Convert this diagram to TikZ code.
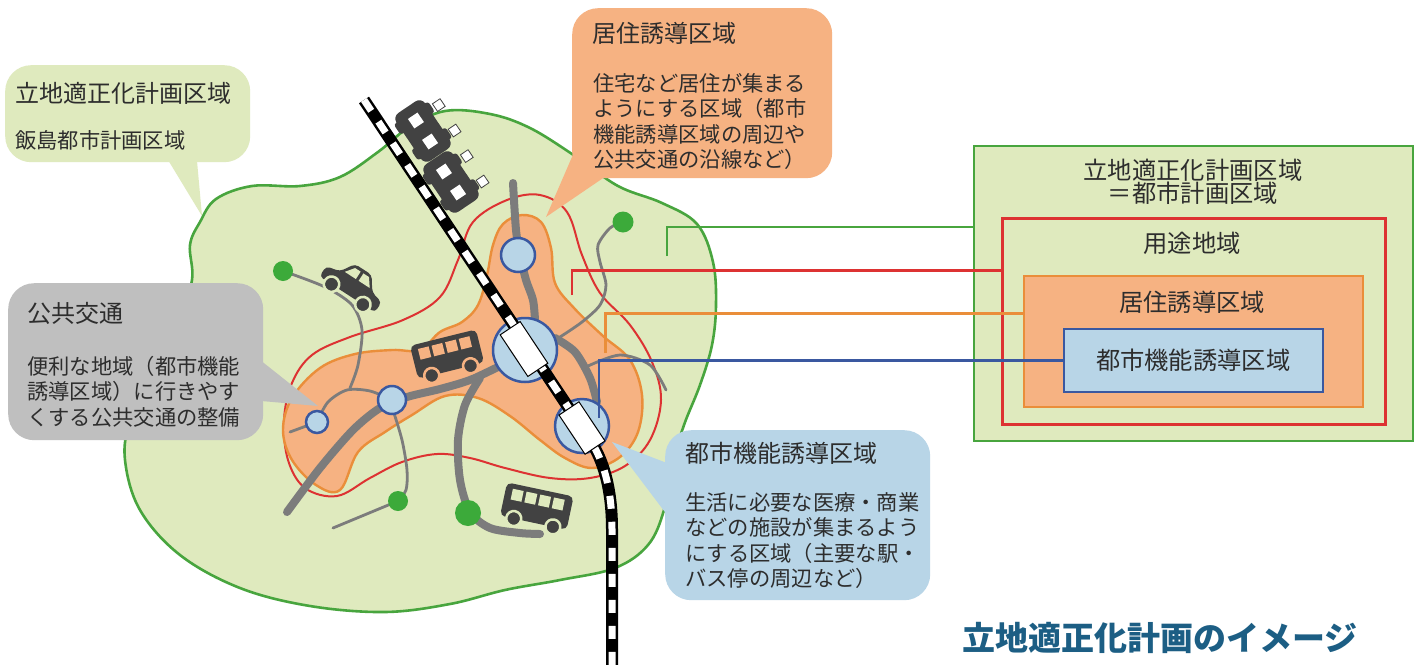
\documentclass[tikz,border=0pt]{standalone}
\usepackage{fontspec}
\setmainfont{Noto Sans CJK JP}
\usepackage{tikz}
\usetikzlibrary{positioning,calc}

\definecolor{areagreen}{RGB}{223,234,190}
\definecolor{linegreen}{RGB}{72,165,62}
\definecolor{areaorange}{RGB}{246,178,130}
\definecolor{lineorange}{RGB}{234,142,58}
\definecolor{linered}{RGB}{221,50,50}
\definecolor{areablue}{RGB}{184,213,231}
\definecolor{lineblue}{RGB}{58,88,160}
\definecolor{balloongray}{RGB}{191,191,191}
\definecolor{roadgray}{RGB}{124,124,124}
\definecolor{vehicle}{RGB}{66,66,66}
\definecolor{dotgreen}{RGB}{60,170,58}
\definecolor{textgray}{RGB}{45,45,45}
\definecolor{titleblue}{RGB}{28,94,132}

\tikzset{
  balloon/.style={rounded corners=26pt, inner sep=0pt, anchor=north west},
  baltitle/.style={anchor=west, inner sep=0pt, text=textgray,
    font=\fontsize{24}{28}\selectfont},
  baltext/.style={anchor=north west, inner sep=0pt, align=left, text=textgray,
    font=\fontsize{21.3}{25.5}\selectfont},
  boxlabel/.style={inner sep=0pt, text=textgray, align=center,
    font=\fontsize{24.3}{23.5}\selectfont},
  road/.style={roadgray, line width=8pt, line cap=round},
  lane/.style={roadgray, line width=2.8pt, line cap=round},
  station/.style={circle, draw=lineblue, fill=areablue, line width=2.5pt, inner sep=0pt},
  platform/.style={draw=black, fill=white, line width=1pt, rotate=-56.4, inner sep=0pt,
    minimum height=24pt},
  spot/.style={circle, fill=dotgreen, inner sep=0pt},
  % vehicles, #1 = colour showing through the cut-outs
  pics/bus/.style={code={
    \fill[vehicle, rounded corners=5pt] (-34,-21) rectangle (34,13);
    \foreach \wx in {-27,-13,1,15}
      \fill[#1] (\wx,-16) rectangle ++(11,11);
    \foreach \wx in {-20,20}
      \filldraw[draw=#1, fill=vehicle, line width=2.5pt] (\wx,13) circle (7.5);
  }},
  pics/sedan/.style={code={
    \fill[vehicle, rounded corners=4pt] (-30,8) -- (-30,-3) -- (-17,-6) -- (-9,-19)
      -- (9,-19) -- (18,-6) -- (30,-3) -- (30,8) -- cycle;
    \fill[#1] (-7,-16) -- (-13,-8) -- (-1,-8) -- (-1,-16) -- cycle;
    \fill[#1] (2,-16) -- (2,-8) -- (14,-8) -- (8,-16) -- cycle;
    \foreach \wx in {-17,17}
      \filldraw[draw=#1, fill=vehicle, line width=2.5pt] (\wx,8) circle (7);
  }},
  pics/topcar/.style={code={
    \fill[vehicle, rounded corners=7pt] (-15,-25) rectangle (15,25);
    \fill[vehicle, rounded corners=3pt] (-18,-19) rectangle (18,-8);
    \fill[vehicle, rounded corners=3pt] (-18,8) rectangle (18,19);
    \fill[#1] (-5,-16) rectangle (5,-6);
    \fill[#1] (-5,6) rectangle (5,16);
    \filldraw[draw=vehicle, fill=white, line width=0.8pt] (20,-15) rectangle ++(8,8);
    \filldraw[draw=vehicle, fill=white, line width=0.8pt] (19,11) rectangle ++(8,8);
  }},
}

\begin{document}
\begin{tikzpicture}[x=1pt, y=-1pt]
  \useasboundingbox[fill=white] (0,0) rectangle (1418,664);

  % planning area
  \draw[linegreen, line width=2.6pt, fill=areagreen] plot[smooth cycle, tension=0.6] coordinates {
    (200,222) (216,199) (252,186) (300,186) (340,177) (378,152) (408,128) (445,111)
    (490,114) (530,128) (575,156) (618,186) (662,203) (697,224) (713,262) (716,305)
    (712,345) (700,385) (684,425) (672,465) (664,510) (648,545) (615,568) (560,580)
    (505,590) (450,604) (385,612) (310,606) (240,588) (180,555) (140,510) (125,460)
    (130,420) (150,370) (178,320) (192,280) (190,245)};

  % use district
  \draw[linered, line width=2pt] plot[smooth cycle, tension=0.6] coordinates {
    (403,320) (440,297) (458,260) (473,222) (507,200) (540,195) (567,212) (582,255)
    (600,293) (630,325) (652,362) (661,400) (650,440) (625,466) (590,478) (550,478)
    (505,468) (470,458) (437,454) (402,462) (370,478) (337,496) (305,488) (288,460)
    (284,420) (292,383) (312,355) (350,337)};

  % residence zone
  \draw[lineorange, line width=2.4pt, fill=areaorange] plot[smooth cycle, tension=0.6] coordinates {
    (440,332) (462,322) (478,305) (487,275) (493,245) (503,224) (522,215) (541,222)
    (551,248) (555,283) (574,308) (603,336) (630,360) (642,395) (638,432) (620,457)
    (592,468) (565,458) (540,440) (510,416) (478,398) (445,396) (412,415) (385,432)
    (358,452) (340,490) (316,485) (292,460) (283,430) (292,398) (320,368) (355,354)
    (392,350) (420,350)};

  % thin roads
  \draw[lane] plot[smooth] coordinates {(560,337) (582,322) (600,305) (606,285) (600,262) (598,245) (610,228) (623,222)};
  \draw[lane] plot[smooth] coordinates {(588,366) (620,355) (650,365) (666,390)};
  \draw[lane] plot[smooth] coordinates {(283,271) (325,287) (352,305) (362,330) (358,365) (350,388)};
  \draw[lane] plot[smooth] coordinates {(317,422) (328,402) (347,390) (370,391) (392,400)};
  \draw[lane] (290,432) -- (317,422);
  \draw[lane] plot[smooth] coordinates {(393,410) (402,440) (407,470) (406,490) (398,501)};
  \draw[lane] (398,501) -- (333,528);

  % main roads
  \draw[road] plot[smooth] coordinates {(513,183) (516,230) (520,255) (526,280) (533,300) (535,320)};
  \draw[road] plot[smooth] coordinates {(287,512) (320,468) (353,430) (380,408) (407,397) (440,389) (470,380) (500,366)};
  \draw[road] plot[smooth] coordinates {(480,378) (465,405) (458,440) (460,480) (470,512) (490,528) (520,533) (540,534)};
  \draw[road] plot[smooth] coordinates {(555,338) (575,352) (590,378) (597,402)};

  % green spots
  \node[spot, minimum size=20pt] (spNW) at (283,271) {};
  \node[spot, minimum size=21pt] (spNE) at (623,222) {};
  \node[spot, minimum size=20pt] (spSW) at (398,501) {};
  \node[spot, minimum size=26pt] (spS) at (468,513) {};

  % stations
  \node[station, minimum size=34pt] (stNorth) at (518,255) {};
  \node[station, minimum size=64pt] (stMain) at (525,350) {};
  \node[station, minimum size=54pt] (stSouth) at (582,426) {};
  \node[station, minimum size=28pt] (stWest) at (392,400) {};
  \node[station, minimum size=22pt] (stFar) at (317,422) {};

  % railway
  \draw[black, line width=12pt] (364,100) -- (590,440) .. controls (604,461) and (612,490) .. (612,530) -- (612,670);
  \draw[white, line width=7pt, dash pattern=on 13pt off 13pt] (364,100) -- (590,440) .. controls (604,461) and (612,490) .. (612,530) -- (612,670);
  \node[platform, minimum width=50pt] (pfMain) at (524,349) {};
  \node[platform, minimum width=47pt] (pfSouth) at (582,428) {};

  % vehicles
  \pic[rotate=34, scale=1.15] at (423,131) {topcar=white};
  \pic[rotate=34, scale=1.15] at (451,182) {topcar=white};
  \pic[rotate=-33, scale=1.1] at (352,287) {sedan=areagreen};
  \pic[rotate=14] at (448,358) {bus=areaorange};
  \pic[rotate=-12] at (536,510) {bus=areagreen};

  % right-hand legend boxes
  \node[draw=linegreen, fill=areagreen, line width=1.5pt, anchor=north west, inner sep=0pt,
    minimum width=439pt, minimum height=295pt] (boxPlan) at (973,145) {};
  \node[draw=linered, line width=2.5pt, anchor=north west, inner sep=0pt,
    minimum width=383pt, minimum height=206pt] (boxUse) at (1001,217) {};
  \node[draw=lineorange, fill=areaorange, line width=1.5pt, anchor=north west, inner sep=0pt,
    minimum width=339pt, minimum height=131pt] (boxLive) at (1023,275) {};
  \node[draw=lineblue, fill=areablue, line width=1.5pt, anchor=north west, inner sep=0pt,
    minimum width=259pt, minimum height=63pt, boxlabel] (boxCore) at (1063,328) {都市機能誘導区域};
  \node[boxlabel] (lblPlan) at (1193,182) {立地適正化計画区域\\＝都市計画区域};
  \node[boxlabel] (lblUse) at (1192,243) {用途地域};
  \node[boxlabel] (lblLive) at (1192,302) {居住誘導区域};

  % leader lines
  \coordinate (tagPlan) at (667,256);
  \coordinate (tagUse) at (572,295);
  \coordinate (tagLive) at (605,353);
  \coordinate (tagCore) at (599,418);
  \draw[linegreen, line width=2pt] (tagPlan) |- ($(boxPlan.north west)!0.275!(boxPlan.south west)$);
  \draw[linered, line width=2.5pt] (tagUse) |- ($(boxUse.north west)!0.257!(boxUse.south west)$);
  \draw[lineorange, line width=3pt] (tagLive) |- ($(boxLive.north west)!0.29!(boxLive.south west)$);
  \draw[lineblue, line width=2.5pt] (tagCore) |- (boxCore.west);

  % balloons
  \fill[areagreen] (162,150) -- (202,216) -- (196,150) -- cycle;
  \node[balloon, fill=areagreen, minimum width=245pt, minimum height=97pt] (cbPlan) at (5,65) {};
  \node[baltitle] (ttPlan) at (15,93) {立地適正化計画区域};
  \node[baltext, anchor=west] (txPlan) at (15,140) {飯島都市計画区域};

  \fill[areaorange] (575,150) -- (546,217) -- (612,172) -- cycle;
  \node[balloon, fill=areaorange, minimum width=260pt, minimum height=170pt] (cbLive) at (572,8) {};
  \node[baltitle] (ttLive) at (592,33) {居住誘導区域};
  \node[baltext] (txLive) at (593,73) {住宅など居住が集まる\\ようにする区域（都市\\機能誘導区域の周辺や\\公共交通の沿線など）};

  \fill[balloongray] (250,352) -- (318,406) -- (250,400) -- cycle;
  \node[balloon, fill=balloongray, minimum width=255pt, minimum height=157pt] (cbBus) at (8,283) {};
  \node[baltitle] (ttBus) at (27,313) {公共交通};
  \node[baltext] (txBus) at (27,356) {便利な地域（都市機能\\誘導区域）に行きやす\\くする公共交通の整備};

  \fill[areablue] (680,468) -- (612,442) -- (680,532) -- cycle;
  \node[balloon, fill=areablue, minimum width=265pt, minimum height=170pt] (cbCore) at (665,430) {};
  \node[baltitle] (ttCore) at (685,453) {都市機能誘導区域};
  \node[baltext] (txCore) at (685,492) {生活に必要な医療・商業\\などの施設が集まるよう\\にする区域（主要な駅・\\バス停の周辺など）};

  % caption
  \node[text=titleblue, font=\bfseries\fontsize{33}{36}\selectfont] (figTitle) at (1160,638) {立地適正化計画のイメージ};
\end{tikzpicture}
\end{document}
